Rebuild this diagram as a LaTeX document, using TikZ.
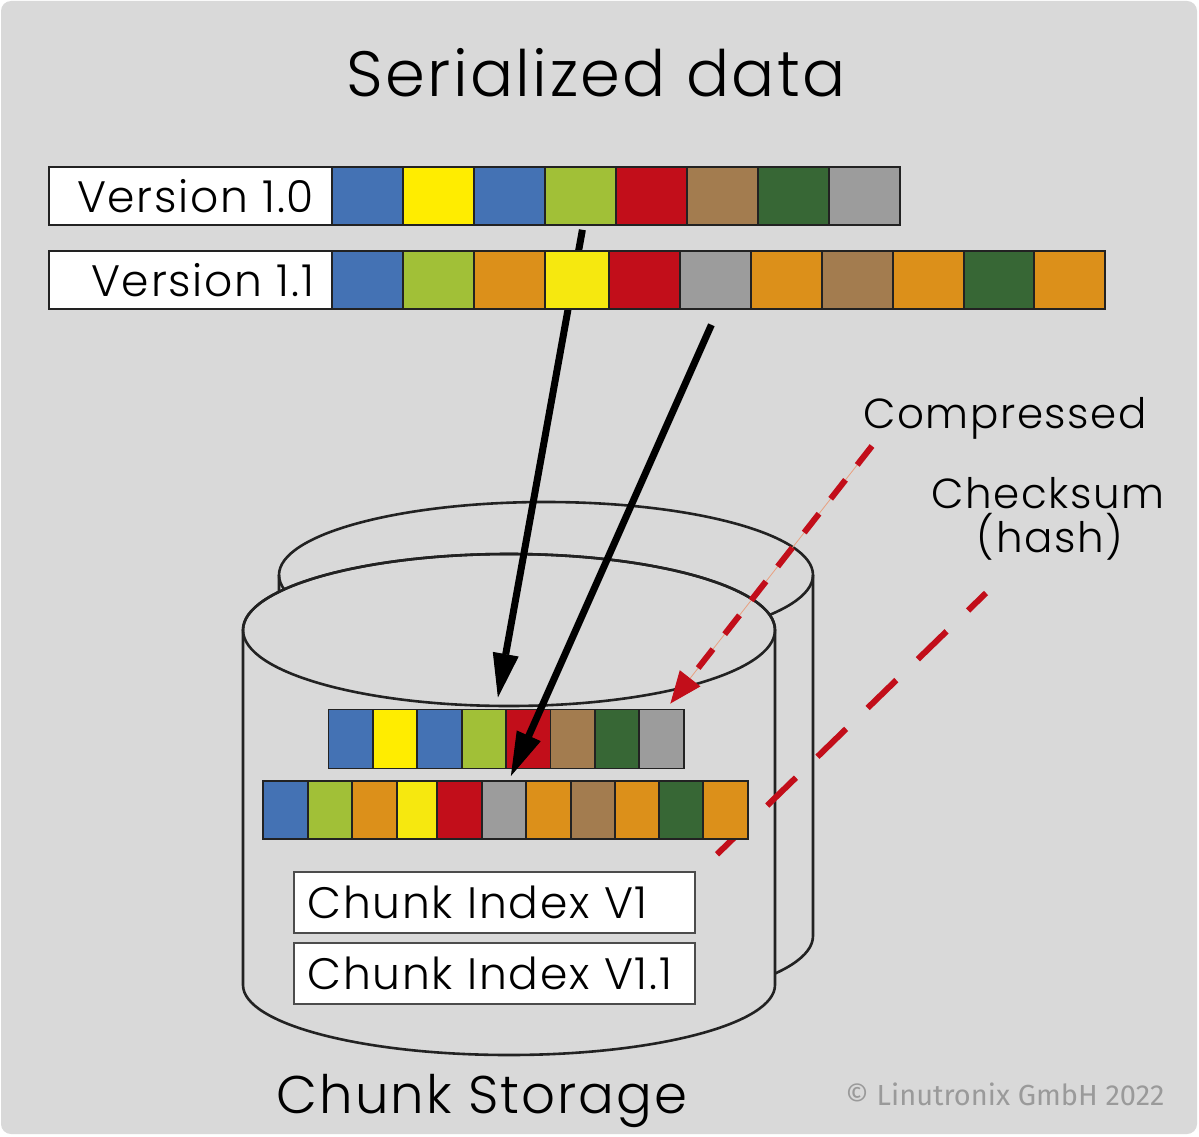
\documentclass[tikz,border=0pt]{standalone}
\usepackage{fontspec}
\setmainfont{Poppins}[UprightFont={* Light},LetterSpace=3.8]
\newfontfamily\creditfont{Fira Sans}
\usetikzlibrary{arrows.meta,calc,positioning}

\definecolor{bggray}{HTML}{D9D9D9}
\definecolor{cblue}{HTML}{4472B4}
\definecolor{cyellow}{HTML}{FFED00}
\definecolor{cyellowb}{HTML}{F6E80F}
\definecolor{cgreen}{HTML}{A1C037}
\definecolor{cred}{HTML}{C20E1A}
\definecolor{cbrown}{HTML}{A37C4F}
\definecolor{cdgreen}{HTML}{376735}
\definecolor{cgray}{HTML}{9C9C9C}
\definecolor{corange}{HTML}{DC901A}
\definecolor{lineblack}{HTML}{222222}
\definecolor{hairred}{HTML}{E8A080}
\definecolor{creditgray}{HTML}{9A9A9A}

\pgfdeclarelayer{back}
\pgfdeclarelayer{lines}
\pgfdeclarelayer{front}
\pgfsetlayers{back,lines,main,front}

\tikzset{
  cell/.style={draw=lineblack,line width=1.8pt,inner sep=0pt,anchor=north west},
  labelbox/.style={draw=lineblack,fill=white,line width=2pt,anchor=north west,
    minimum width=283pt,minimum height=58pt,inner xsep=18pt,inner ysep=0pt,
    text width=247pt,align=right,font=\fontsize{44pt}{48pt}\selectfont},
  indexbox/.style={draw=black!70,fill=white,line width=1.5pt,anchor=north west,
    minimum width=401pt,minimum height=61pt,inner xsep=14pt,inner ysep=0pt,
    text width=373pt,align=left,font=\fontsize{44pt}{48pt}\selectfont},
  cyl/.style={draw=lineblack,line width=2.6pt},
  note/.style={font=\fontsize{42pt}{46pt}\selectfont,anchor=base},
  chunkarrow/.style={line width=7pt,-{Triangle[length=44pt,width=26pt,line width=1pt]}},
  reddash/.style={draw=cred,line width=6pt}
}

\begin{document}
\begin{tikzpicture}[x=1pt,y=-1pt]
\useasboundingbox (0,0) rectangle (1199,1137);
\begin{pgfonlayer}{back}
  \fill[white] (0,0) rectangle (1199,1137);
  \fill[bggray,rounded corners=10pt] (1,1) rectangle (1197,1134);
  % storage: back drum, then front drum over it
  \draw[cyl] (546,575) ellipse [x radius=267,y radius=73];
  \draw[cyl] (813,575) -- (813,936) arc[start angle=0,end angle=180,x radius=267,y radius=73] -- (279,575);
  \filldraw[cyl,fill=bggray] (243,630) -- (243,985) arc[start angle=180,end angle=0,x radius=266,y radius=70]
    -- (775,630) arc[start angle=0,end angle=-180,x radius=266,y radius=76] -- cycle;
  \draw[cyl] (509,630) ellipse [x radius=266,y radius=76];
\end{pgfonlayer}

\node[font=\fontsize{64pt}{70pt}\selectfont,anchor=base] (title) at (596,97) {Serialized data};

% serialized versions
\node[labelbox] (v10) at (48,166) {Version 1.0};
\foreach \c [count=\i] in {cblue,cyellow,cblue,cgreen,cred,cbrown,cdgreen,cgray}
  \node[cell,fill=\c,minimum width=71pt,minimum height=58pt] (v10-\i) at ({331+71*(\i-1)},166) {};

\node[labelbox] (v11) at (48,250) {Version 1.1};
\foreach \c/\x/\w [count=\i] in {cblue/331/71,cgreen/402/71,corange/473/71,cyellowb/544/64,cred/608/71,cgray/679/71,
    corange/750/71,cbrown/821/71,corange/892/71,cdgreen/963/70,corange/1033/71}
  \node[cell,fill=\c,minimum width=\w pt,minimum height=58pt] (v11-\i) at (\x,250) {};

% chunks inside the storage
\foreach \c [count=\i] in {cblue,cyellow,cblue,cgreen,cred,cbrown,cdgreen,cgray}
  \node[cell,fill=\c,minimum width=44.4pt,minimum height=59pt] (ca-\i) at ({327.5+44.4*(\i-1)},708.5) {};
\foreach \c/\x/\w [count=\i] in {cblue/262/45,cgreen/307/44,corange/351/45,cyellowb/396/40,cred/436/45,cgray/481/44,
    corange/525/45,cbrown/570/44,corange/614/44,cdgreen/658/44,corange/702/45}
  \node[cell,fill=\c,minimum width=\w pt,minimum height=58pt] (cb-\i) at (\x,780) {};

\node[indexbox] (idx1) at (293,871) {Chunk Index V1};
\node[indexbox] (idx2) at (293,942) {Chunk Index V1.1};

\node[font=\fontsize{53pt}{56pt}\selectfont,anchor=base] (store) at (482,1113) {Chunk Storage};
\node[note] (compr) at (1005,428) {Compressed};
\node[note] (chksum) at (1048,508) {Checksum};
\node[note] (hash) at (1050,552) {(hash)};
\node[font=\creditfont\fontsize{29pt}{32pt}\selectfont,text=creditgray,anchor=base east] (credit) at (1168,1105) {© Linutronix GmbH 2022};

\coordinate (compr-tail) at (872,446);
\coordinate (chk-tail) at (986,593);

\begin{pgfonlayer}{lines}
  \draw[hairred,line width=0.8pt] (compr-tail) -- ($(ca-8.north)+(9,-5)$);
  \draw[reddash,dash pattern=on 24pt off 19pt,-{Triangle[length=32pt,width=26pt,line width=1pt]}]
    (compr-tail) -- ($(ca-8.north)+(9,-5)$);
  \draw[reddash,dash pattern=on 40pt off 30pt,dash phase=15pt] (chk-tail) -- ($(cb-11.south)+(-12,18)$);
  \draw[chunkarrow] ($(v10-4.south)+(2,4)$) -- ($(ca-4.north east)+(-9,-11)$);
\end{pgfonlayer}
\begin{pgfonlayer}{front}
  \draw[chunkarrow] ($(v11-6.south)+(-4,15)$) -- ($(cb-6.north)+(7,-4)$);
\end{pgfonlayer}
\end{tikzpicture}
\end{document}
